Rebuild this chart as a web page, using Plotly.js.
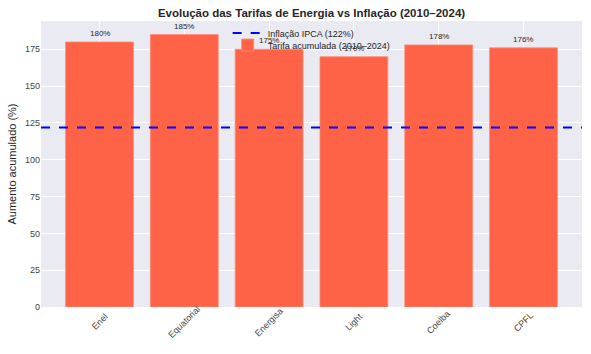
<!DOCTYPE html>
<html><head><meta charset="utf-8">
<script src="https://cdn.plot.ly/plotly-3.0.1.min.js"></script>
<style>html,body{margin:0;padding:0;background:#fff}#chart{width:591px;height:354px}</style>
</head><body><div id="chart"></div>
<script>
var companies = ["Enel", "Equatorial", "Energisa", "Light", "Coelba", "CPFL"];
var tariffIncrease = [180, 185, 175, 170, 178, 176];
var inflation = 122;
var seriesNames = ["Inflação IPCA (122%)", "Tarifa acumulada (2010–2024)"];

var font = "Liberation Sans, Arial, sans-serif";
var traces = [
  {type: "scatter", mode: "lines", x: [0, 1], y: [inflation, inflation], xaxis: "x2",
   name: seriesNames[0], line: {color: "#0000FF", width: 2, dash: "dash"}, hoverinfo: "skip", legend: "legend"},
  {type: "bar", x: companies, y: tariffIncrease, width: 0.8, name: seriesNames[1], legend: "legend2",
   marker: {color: "#FF6347", line: {color: "#FF8A73", width: 0.8}}}
];

var annotations = [];
companies.forEach(function (c, i) {
  annotations.push({x: c, y: tariffIncrease[i], xref: "x", yref: "y", text: tariffIncrease[i] + "%",
    showarrow: false, yanchor: "bottom", yshift: 2, font: {family: font, size: 8, color: "#262626"}});
  annotations.push({x: c, y: 0, xref: "x", yref: "y", text: c, showarrow: false, textangle: -45,
    yanchor: "middle", xanchor: "center", yshift: -15, font: {family: font, size: 9, color: "#444"}});
});

var legX = 0.345;
var layout = {
  width: 591, height: 354,
  margin: {l: 41, r: 9, t: 21, b: 47},
  paper_bgcolor: "#ffffff", plot_bgcolor: "#EAEAF2",
  title: {text: "<b>Evolução das Tarifas de Energia vs Inflação (2010–2024)</b>",
    font: {family: font, size: 11.5, color: "#262626"}, xref: "paper", x: 0.5, xanchor: "center", y: 0.963, yanchor: "middle"},
  xaxis: {type: "category", range: [-0.69, 5.69], showgrid: true, gridcolor: "#ffffff", gridwidth: 1,
    showticklabels: false, ticks: "", zeroline: false, showline: false},
  xaxis2: {overlaying: "x", range: [0, 1], visible: false},
  yaxis: {range: [0, 194.25], tickvals: [0, 25, 50, 75, 100, 125, 150, 175], showgrid: true,
    gridcolor: "#ffffff", gridwidth: 1, zeroline: false, ticks: "", ticklen: 0,
    tickfont: {family: font, size: 9, color: "#444"},
    title: {text: "Aumento acumulado (%)", font: {family: font, size: 11, color: "#262626"}, standoff: 6}},
  showlegend: true,
  legend: {x: legX, xanchor: "left", y: 0.958, yanchor: "middle", bgcolor: "rgba(0,0,0,0)",
    font: {family: font, size: 9, color: "#262626"}, itemwidth: 30},
  legend2: {x: legX, xanchor: "left", y: 0.916, yanchor: "middle", bgcolor: "rgba(0,0,0,0)",
    font: {family: font, size: 9, color: "#262626"}, itemwidth: 30},
  bargap: 0.2,
  annotations: annotations
};
Plotly.newPlot("chart", traces, layout, {displayModeBar: false, staticPlot: true});
</script></body></html>
